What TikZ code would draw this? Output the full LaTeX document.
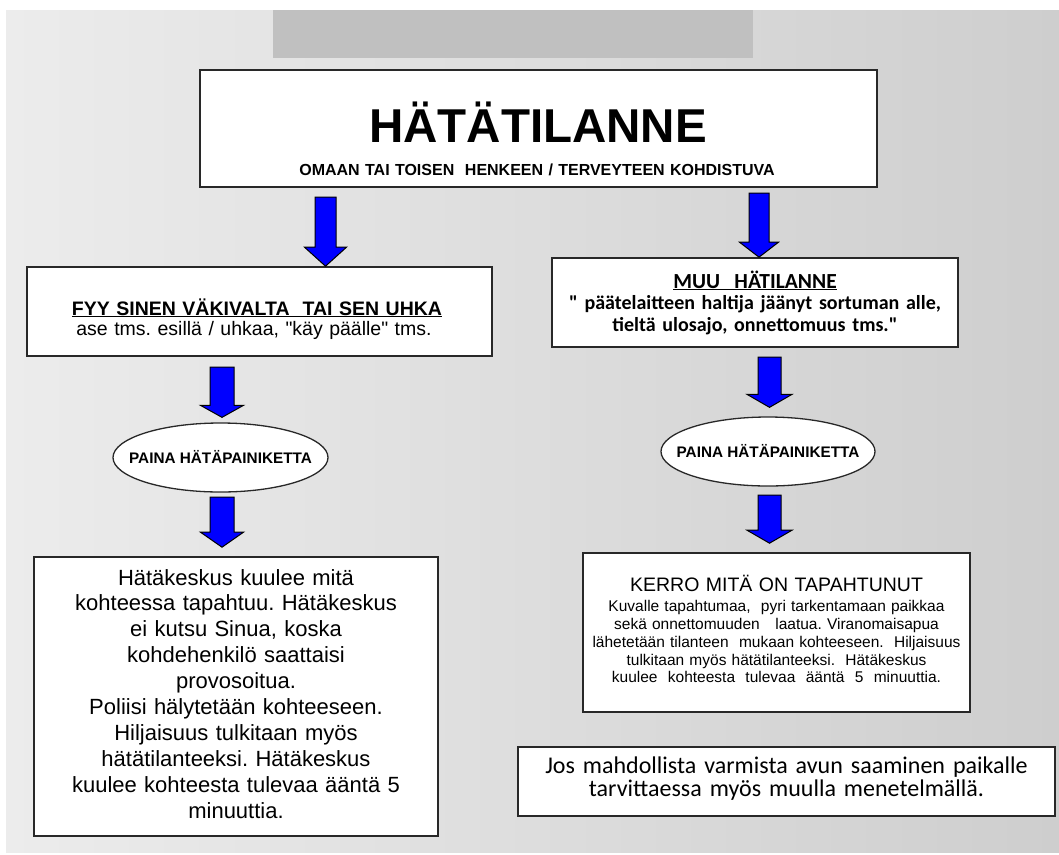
\documentclass[tikz,border=0pt]{standalone}
\usepackage{fontspec}
\setmainfont{Liberation Sans}
\newfontfamily\plainarial[Ligatures=TeXOff]{Liberation Sans}
\newfontfamily\carlito{Carlito}
\usetikzlibrary{calc,shapes.geometric}
\definecolor{arrblue}{RGB}{0,0,255}
\definecolor{rectgray}{RGB}{192,192,192}
\definecolor{bgleft}{RGB}{236,236,236}
\definecolor{bgright}{RGB}{206,206,206}
\definecolor{edge}{RGB}{40,40,40}
\frenchspacing
\newcommand\blockarrow[5]{%
  \draw[blockarr] let \p1=(#1), \p2=(#2) in
    (\x1-#3,\y1) -- (\x1+#3,\y1) -- (\x1+#3,\y2+#5) -- (\x1+#4,\y2+#5) --
    (\x1,\y2) -- (\x1-#4,\y2+#5) -- (\x1-#3,\y2+#5) -- cycle;}
\begin{document}
\begin{tikzpicture}[x=1pt,y=-1pt,
  box/.style={draw=edge, line width=1.6pt, fill=white, rectangle, inner sep=0pt},
  oval/.style={draw=edge, line width=1.3pt, fill=white, ellipse, inner sep=0pt,
    minimum width=215pt, minimum height=69pt, text height=11pt, text depth=0pt,
    font=\fontsize{15.3}{18}\selectfont\bfseries},
  txt/.style={inner sep=0pt, anchor=base, align=center, text width=#1},
  blockarr/.style={draw=black, line width=1pt, fill=arrblue, line join=miter}]

\useasboundingbox (0,0) rectangle (1059,854);
\fill[white] (0,0) rectangle (1059,854);
\shade[left color=bgleft, right color=bgright] (6,10) rectangle (1059,852);
\fill[rectgray] (273,10) rectangle (753,58);

% boxes
\node[box, minimum width=677pt, minimum height=117pt] (top) at (538.5,128.5) {};
\node[box, minimum width=465pt, minimum height=89pt] (fyy) at (259.5,311.5) {};
\node[box, minimum width=406pt, minimum height=89pt] (muu) at (755,302.5) {};
\node[oval] (ellL) at (220.5,457.5) {\makebox[0pt][c]{PAINA HÄTÄPAINIKETTA}};
\node[oval, minimum width=214pt] (ellR) at (768,451.5) {\makebox[0pt][c]{PAINA HÄTÄPAINIKETTA}};
\node[box, minimum width=404pt, minimum height=279pt] (info) at (236,696.5) {};
\node[box, minimum width=387pt, minimum height=159pt] (kerro) at (776.5,632.5) {};
\node[box, minimum width=537pt, minimum height=69pt] (final) at (786.5,781.5) {};

% texts
\node[txt=640pt, font=\fontsize{47.5}{50}\selectfont\bfseries] (title) at (538,142) {HÄTÄTILANNE};
\node[txt=640pt, font=\fontsize{16}{19}\selectfont\bfseries] (subtitle) at (537,175) {OMAAN TAI TOISEN~ HENKEEN / TERVEYTEEN KOHDISTUVA};

\node[txt=460pt, font=\fontsize{19.5}{22}\selectfont\bfseries] (fyyhead) at (257,315) {\underline{FYY SINEN VÄKIVALTA~ TAI SEN UHKA}};
\node[txt=460pt, font=\plainarial\fontsize{19.5}{22}\selectfont] (fyytext) at (254,335) {ase tms. esillä / uhkaa, "käy päälle" tms.};

\node[txt=400pt, font=\carlito\fontsize{21.5}{24}\selectfont\bfseries] (muuhead) at (755,288) {\underline{MUU~ HÄTILANNE}};
\node[txt=400pt, font=\carlito\fontsize{20}{21.5}\selectfont\bfseries] (muutext) at (755,309.5) {" päätelaitteen haltija jäänyt sortuman alle,\\ tieltä ulosajo, onnettomuus tms."};

\node[txt=400pt, font=\fontsize{22}{25.9}\selectfont] (infotext) at (236,585)
  {Hätäkeskus kuulee mitä\\
   kohteessa tapahtuu. Hätäkeskus\\
   ei kutsu Sinua, koska\\
   kohdehenkilö saattaisi\\
   provosoitua.\\
   Poliisi hälytetään kohteeseen.\\
   Hiljaisuus tulkitaan myös\\
   hätätilanteeksi. Hätäkeskus\\
   kuulee kohteesta tulevaa ääntä 5\\
   minuuttia.};

\node[txt=380pt, font=\fontsize{19.5}{22}\selectfont] (kerrohead) at (776.5,591.7) {KERRO MITÄ ON TAPAHTUNUT};
\node[txt=380pt, font=\fontsize{15.5}{17.8}\selectfont] (kerrotext) at (776.5,611.7)
  {Kuvalle tapahtumaa,~ pyri tarkentamaan paikkaa\\
   sekä onnettomuuden~~ laatua. Viranomaisapua\\
   lähetetään tilanteen~ mukaan kohteeseen.~ Hiljaisuus\\
   tulkitaan myös hätätilanteeksi.~ Hätäkeskus\\
   kuulee~ kohteesta~ tulevaa~ ääntä~ 5~ minuuttia.};

\node[txt=530pt, font=\carlito\fontsize{24}{23.7}\selectfont] (finaltext) at (786.5,773)
  {Jos mahdollista varmista avun saaminen paikalle\\
   tarvittaessa myös muulla menetelmällä.};

% arrows
\coordinate (sL1) at (325.5,197);
\coordinate (sR1) at (759,193);
\coordinate (sL2) at (222,367);
\coordinate (sR2) at (769.5,357);
\coordinate (sL3) at (222,497);
\coordinate (sR3) at (769.5,495);
\blockarrow{sL1}{sL1 |- fyy.north}{10.5pt}{21pt}{19pt}
\blockarrow{sR1}{sR1 |- muu.north}{10pt}{19.5pt}{15pt}
\blockarrow{sL2}{$(sL2 |- ellL.north)+(0,-5)$}{12pt}{21.5pt}{12pt}
\blockarrow{sR2}{$(sR2 |- ellR.north)+(0,-9)$}{11.5pt}{22.5pt}{13pt}
\blockarrow{sL3}{$(sL3 |- info.north)+(0,-9)$}{12pt}{21.5pt}{15pt}
\blockarrow{sR3}{$(sR3 |- kerro.north)+(0,-9)$}{11.5pt}{22.5pt}{13pt}
\end{tikzpicture}
\end{document}
